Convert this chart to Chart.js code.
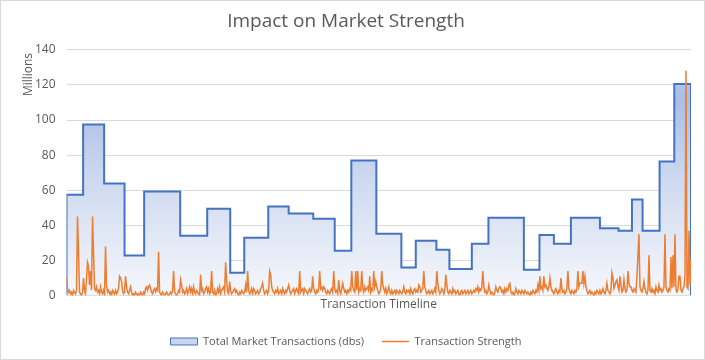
<!DOCTYPE html>
<html>
<head>
<meta charset="utf-8">
<script src="https://cdn.jsdelivr.net/npm/chart.js@4/dist/chart.umd.min.js"></script>
<style>
  html, body { margin: 0; padding: 0; background: #fff; }
  #wrap { width: 705px; height: 360px; box-sizing: border-box; border: 1px solid #d9d9d9; position: relative; }
  #c { display: block; }
</style>
</head>
<body>
<div id="wrap"><canvas id="c" width="703" height="358"></canvas></div>
<script>
// ---- data ----
const chartTitle = "Impact on Market Strength";
const seriesNames = ["Total Market Transactions (dbs)", "Transaction Strength"];
const xTitle = "Transaction Timeline";
const yTitle = "Millions";
const yTicks = [0, 20, 40, 60, 80, 100, 120, 140];

// Total market transactions: period start (timeline step) and value held for that period (millions)
const periodStart = [0, 16.6, 37.6, 58, 77.6, 113.6, 140.6, 163.6, 177.6, 201.6, 222, 246.6, 268, 284.6, 309.6, 334.6,
  349, 369.6, 382.6, 405, 421.6, 457, 472.6, 487, 504, 533, 551.6, 565, 575.6, 592.6, 607.3];
const periodValue = [57.5, 97.5, 63.8, 22.9, 59.3, 34.1, 49.5, 13, 33, 50.7, 46.7, 43.8, 25.5, 77, 35.2, 16,
  31.2, 26.1, 15.2, 29.5, 44.4, 14.7, 34.5, 29.5, 44.4, 38.3, 37, 54.7, 37, 76.4, 120.5];
const timelineEnd = 624;

// Transaction strength per timeline step (millions)
const strength = [
  10,4,2,3,1,2,0,3,2,1,3,45,25,2,1,0,2,10,3,1,10,19,17,6,14,
  3,45,25,4,3,5,2,3,1,5,2,1,3,1,28,6,2,3,1,2,0,3,2,1,3,
  1,2,4,11,10,8,3,1,2,11,5,2,1,3,5,2,0,1,0,2,1,0,1,0,2,
  1,0,2,1,4,5,3,5,6,4,2,1,3,4,2,4,3,25,2,1,0,2,1,0,1,
  2,1,0,1,2,1,3,14,2,1,0,1,3,2,9,6,2,3,1,2,4,1,3,5,2,
  4,1,5,2,1,3,2,1,0,12,3,4,1,2,4,5,2,4,1,2,14,2,1,3,0,
  1,4,2,5,1,3,4,5,2,19,8,2,1,8,3,1,2,3,4,2,3,1,0,2,1,
  3,2,1,2,6,2,14,3,1,2,4,1,4,3,1,2,3,1,2,4,5,7,3,1,2,
  3,1,3,14,12,5,3,2,1,3,2,4,1,2,3,1,4,2,1,3,2,4,6,3,1,
  2,3,4,1,3,4,2,1,14,2,3,4,1,4,3,2,1,3,4,2,3,11,4,2,1,
  3,2,4,14,4,5,3,5,4,2,1,3,2,1,3,4,2,14,4,2,3,1,9,3,1,
  4,7,4,2,3,1,3,2,4,3,14,5,3,2,14,3,14,2,4,3,14,4,2,5,3,
  4,5,3,11,2,4,3,14,5,8,5,3,1,2,4,14,6,4,2,4,1,3,5,2,1,
  3,1,2,3,1,3,2,1,3,2,1,2,5,2,1,3,2,3,1,4,2,1,3,4,2,
  3,2,6,5,2,3,4,14,5,3,1,2,3,1,2,3,1,2,4,2,14,7,3,1,2,
  4,3,1,3,12,6,2,1,3,2,1,4,2,3,1,2,3,1,0,2,3,1,2,3,1,
  2,3,1,2,3,1,2,3,2,4,3,5,2,4,3,5,14,5,2,3,1,2,6,3,1,
  2,1,0,2,5,3,2,4,5,4,2,3,1,4,2,4,3,6,7,2,1,2,0,1,4,
  2,1,3,2,1,3,2,1,3,2,1,2,1,0,2,1,3,2,1,3,2,6,3,11,4,
  5,3,11,5,6,4,3,5,10,5,3,2,1,3,4,2,1,3,2,10,4,2,3,1,2,
  4,14,4,2,1,3,2,1,3,2,4,14,5,7,7,7,14,7,11,5,3,1,2,3,1,
  2,1,0,2,1,3,2,1,3,1,2,4,2,1,3,7,3,2,1,3,13,10,4,6,8,
  9,5,3,11,6,2,3,9,4,2,3,14,7,5,5,3,2,4,3,2,11,23,35,5,3,
  2,4,8,4,2,1,3,23,3,2,4,2,3,1,5,3,2,6,3,4,2,3,5,35,5,
  3,2,4,3,22,4,23,5,35,3,2,4,11,11,3,2,4,5,12,128,5,4,37,6,21
];

// ---- build ----
const blueLine = '#4472c4';
const orange = '#ed7d31';
const textCol = '#595959';

const totalPoints = [{x: periodStart[0], y: 0}];
periodStart.forEach((s, i) => totalPoints.push({x: s, y: periodValue[i]}));
totalPoints.push({x: timelineEnd, y: periodValue[periodValue.length - 1]});
totalPoints.push({x: timelineEnd, y: 0});

const strengthPoints = strength.map((v, i) => ({x: i, y: v}));

function blueGradient(ctx) {
  const chart = ctx.chart;
  const area = chart.chartArea;
  if (!area) return '#c9d5ee';
  const y = chart.scales.y;
  const g = chart.ctx.createLinearGradient(0, y.getPixelForValue(140), 0, y.getPixelForValue(0));
  g.addColorStop(0, '#c3d0ec');
  g.addColorStop(0.2, '#aabee4');
  g.addColorStop(0.55, '#d0dbf0');
  g.addColorStop(1, '#f5f7fc');
  return g;
}

const FONT = "'Open Sans', 'Liberation Sans', sans-serif";

new Chart(document.getElementById('c'), {
  type: 'line',
  data: {
    datasets: [
      {
        label: seriesNames[0],
        data: totalPoints,
        stepped: 'before',
        borderColor: blueLine,
        borderWidth: 2,
        backgroundColor: blueGradient,
        fill: 'origin',
        pointRadius: 0,
        order: 1
      },
      {
        label: seriesNames[1],
        data: strengthPoints,
        borderColor: orange,
        backgroundColor: orange,
        borderWidth: 1.5,
        pointRadius: 0,
        tension: 0,
        fill: false,
        order: 0
      }
    ]
  },
  options: {
    responsive: false,
    animation: false,
    events: [],
    layout: { padding: { left: 0, right: 13, top: 0, bottom: 2 } },
    scales: {
      x: {
        type: 'linear',
        min: 0,
        max: timelineEnd,
        grid: { display: false, drawTicks: false },
        border: { display: false },
        ticks: { display: false },
        title: { display: true, text: xTitle, color: textCol, font: { family: FONT, size: 12 }, padding: { top: 2, bottom: 6 } }
      },
      y: {
        min: 0,
        max: 140,
        afterBuildTicks: (scale) => { scale.ticks = yTicks.map(v => ({value: v})); },
        grid: { color: '#d9d9d9', lineWidth: 1, drawTicks: false },
        border: { display: false },
        ticks: { color: textCol, font: { family: FONT, size: 12 }, padding: 11 },
        title: { display: true, text: yTitle + ' ', align: 'end', color: textCol, font: { family: FONT, size: 12 }, padding: { top: 20, bottom: 0 } },
        afterFit: (scale) => { scale.width = 65.5; }
      }
    },
    plugins: {
      title: {
        display: true,
        text: chartTitle,
        color: textCol,
        font: { family: FONT, size: 19, weight: 'normal' },
        padding: { top: 9, bottom: 17 }
      },
      legend: {
        position: 'bottom',
        labels: {
          color: textCol,
          font: { family: FONT, size: 11 },
          usePointStyle: true,
          pointStyleWidth: 27,
          boxHeight: 7,
          padding: 18,
          sort: (a, b) => a.datasetIndex - b.datasetIndex,
          generateLabels: (chart) => {
            const items = Chart.defaults.plugins.legend.labels.generateLabels(chart);
            items.forEach(it => {
              if (it.datasetIndex === 0) {
                it.pointStyle = 'rect';
                it.fillStyle = '#c9d5ee';
                it.strokeStyle = blueLine;
                it.lineWidth = 1;
              } else {
                it.pointStyle = 'line';
                it.strokeStyle = orange;
                it.lineWidth = 1.5;
              }
            });
            return items;
          }
        }
      },
      tooltip: { enabled: false }
    }
  }
});
</script>
</body>
</html>
